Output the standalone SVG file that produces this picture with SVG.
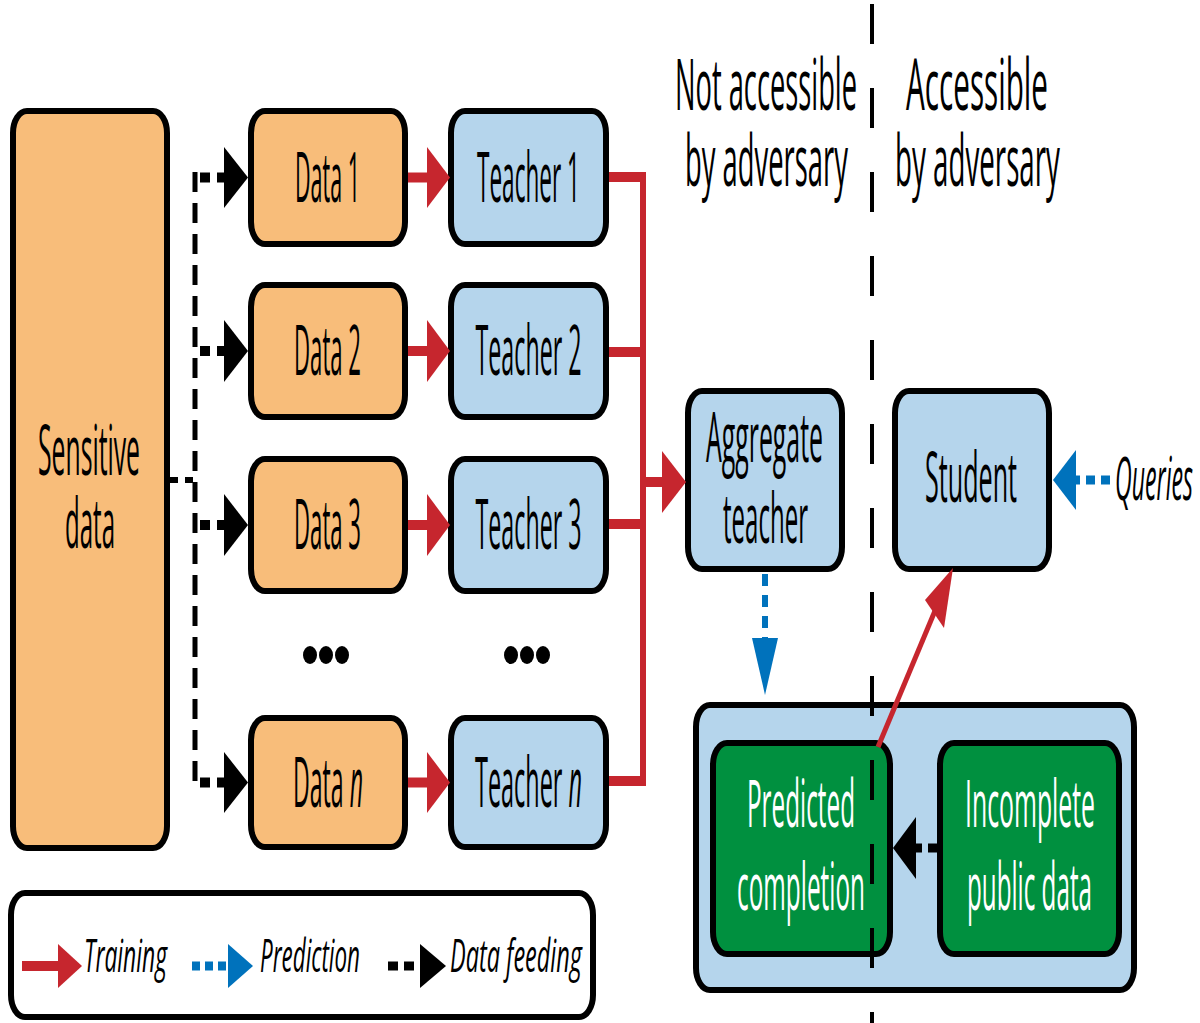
<svg xmlns="http://www.w3.org/2000/svg" width="1200" height="1023" viewBox="0 0 1200 1023">
<style>
.box{stroke:#000;stroke-width:6}
.or{fill:#F8BD7A}
.bl{fill:#B5D5EC}
.gr{fill:#00903F}
.t{font-family:"Open Sans","Noto Sans","DejaVu Sans",sans-serif;font-size:70px;fill:#000}
.w{fill:#fff;font-size:66px}
.hd{font-size:72px}
.it{font-style:italic}
.lg{font-size:46px;font-style:italic}
.red{stroke:#C6262E;fill:none}
.redf{fill:#C6262E}
.blu{stroke:#0072BC;fill:none}
.bluf{fill:#0072BC}
.blk{stroke:#000;fill:none}
</style>
<rect width="1200" height="1023" fill="#fff"/>

<g id="sensitive-data">
<rect class="box or" x="13" y="111" width="154" height="737" rx="14" ry="22"/>
<text class="t" x="89" y="475" text-anchor="middle" textLength="102" lengthAdjust="spacingAndGlyphs">Sensitive</text>
<text class="t" x="90" y="548" text-anchor="middle" textLength="50" lengthAdjust="spacingAndGlyphs">data</text>
</g>

<g id="data1">
<rect class="box or" x="251" y="111" width="154" height="133" rx="14" ry="22"/>
<text class="t" x="327.5" y="202" text-anchor="middle" textLength="65" lengthAdjust="spacingAndGlyphs">Data 1</text>
</g>
<g id="data2">
<rect class="box or" x="251" y="285" width="154" height="132" rx="14" ry="22"/>
<text class="t" x="327.5" y="375" text-anchor="middle" textLength="67" lengthAdjust="spacingAndGlyphs">Data 2</text>
</g>
<g id="data3">
<rect class="box or" x="251" y="459" width="154" height="132" rx="14" ry="22"/>
<text class="t" x="327.5" y="549" text-anchor="middle" textLength="67" lengthAdjust="spacingAndGlyphs">Data 3</text>
</g>
<g id="data-dots">
<ellipse cx="310" cy="655" rx="7" ry="9"/>
<ellipse cx="326" cy="655" rx="7" ry="9"/>
<ellipse cx="342" cy="655" rx="7" ry="9"/>
</g>
<g id="datan">
<rect class="box or" x="251" y="718" width="154" height="129" rx="14" ry="22"/>
<text class="t" x="328" y="807" text-anchor="middle" textLength="70" lengthAdjust="spacingAndGlyphs">Data <tspan class="it">n</tspan></text>
</g>

<g id="teacher1">
<rect class="box bl" x="451" y="111" width="155" height="133" rx="14" ry="22"/>
<text class="t" x="528.5" y="202" text-anchor="middle" textLength="103" lengthAdjust="spacingAndGlyphs">Teacher 1</text>
</g>
<g id="teacher2">
<rect class="box bl" x="451" y="285" width="155" height="132" rx="14" ry="22"/>
<text class="t" x="528.5" y="375" text-anchor="middle" textLength="106" lengthAdjust="spacingAndGlyphs">Teacher 2</text>
</g>
<g id="teacher3">
<rect class="box bl" x="451" y="459" width="155" height="132" rx="14" ry="22"/>
<text class="t" x="528.5" y="549" text-anchor="middle" textLength="106" lengthAdjust="spacingAndGlyphs">Teacher 3</text>
</g>
<g id="teacher-dots">
<ellipse cx="511" cy="655" rx="7" ry="9"/>
<ellipse cx="527" cy="655" rx="7" ry="9"/>
<ellipse cx="543" cy="655" rx="7" ry="9"/>
</g>
<g id="teachern">
<rect class="box bl" x="451" y="718" width="155" height="129" rx="14" ry="22"/>
<text class="t" x="528.5" y="807" text-anchor="middle" textLength="107" lengthAdjust="spacingAndGlyphs">Teacher <tspan class="it">n</tspan></text>
</g>

<g id="aggregate-teacher">
<rect class="box bl" x="688" y="391" width="154" height="178" rx="14" ry="22"/>
<text class="t" x="764.5" y="462" text-anchor="middle" textLength="117" lengthAdjust="spacingAndGlyphs">Aggregate</text>
<text class="t" x="765.5" y="543" text-anchor="middle" textLength="85" lengthAdjust="spacingAndGlyphs">teacher</text>
</g>

<g id="student">
<rect class="box bl" x="895" y="391" width="154" height="178" rx="14" ry="22"/>
<text class="t" x="971" y="502" text-anchor="middle" textLength="92" lengthAdjust="spacingAndGlyphs">Student</text>
</g>
<g id="queries">
<text class="t it" x="1115" y="500" style="font-size:60px" textLength="78" lengthAdjust="spacingAndGlyphs">Queries</text>
</g>

<g id="public-data-container">
<rect class="box bl" x="696" y="705" width="438" height="285" rx="14" ry="22"/>
</g>
<g id="predicted-completion">
<rect class="box gr" x="713" y="743" width="177" height="211" rx="14" ry="22"/>
<text class="t w" x="801" y="827" text-anchor="middle" textLength="108" lengthAdjust="spacingAndGlyphs">Predicted</text>
<text class="t w" x="801" y="910" text-anchor="middle" textLength="128" lengthAdjust="spacingAndGlyphs">completion</text>
</g>
<g id="incomplete-public-data">
<rect class="box gr" x="940" y="743" width="179" height="211" rx="14" ry="22"/>
<text class="t w" x="1030" y="827" text-anchor="middle" textLength="130" lengthAdjust="spacingAndGlyphs">Incomplete</text>
<text class="t w" x="1029.5" y="910" text-anchor="middle" textLength="125" lengthAdjust="spacingAndGlyphs">public data</text>
</g>

<g id="labels">
<text class="t hd" x="766" y="110" text-anchor="middle" textLength="182" lengthAdjust="spacingAndGlyphs">Not accessible</text>
<text class="t hd" x="766.5" y="186" text-anchor="middle" textLength="163" lengthAdjust="spacingAndGlyphs">by adversary</text>
<text class="t hd" x="977" y="110" text-anchor="middle" textLength="142" lengthAdjust="spacingAndGlyphs">Accessible</text>
<text class="t hd" x="977.5" y="186" text-anchor="middle" textLength="165" lengthAdjust="spacingAndGlyphs">by adversary</text>
</g>

<g id="divider">
<line class="blk" x1="872" y1="4" x2="872" y2="1023" stroke-width="4" stroke-dasharray="40 44"/>
</g>

<g id="connectors">
<line class="blk" x1="170" y1="480" x2="195" y2="480" stroke-width="6" stroke-dasharray="8 7"/>
<line class="blk" x1="195" y1="172" x2="195" y2="788" stroke-width="5" stroke-dasharray="20 11"/>
<g class="blk" stroke-width="10" stroke-dasharray="10 7">
<line x1="200" y1="177.5" x2="228" y2="177.5"/>
<line x1="200" y1="351" x2="228" y2="351"/>
<line x1="200" y1="525" x2="228" y2="525"/>
<line x1="200" y1="782.5" x2="228" y2="782.5"/>
</g>
<polygon points="224,147 248,177.5 224,208"/>
<polygon points="224,320 248,351 224,382"/>
<polygon points="224,494 248,525 224,556"/>
<polygon points="224,752 248,782.5 224,813"/>
<g class="red" stroke-width="10">
<line x1="408" y1="177.5" x2="430" y2="177.5"/>
<line x1="408" y1="351" x2="430" y2="351"/>
<line x1="408" y1="525" x2="430" y2="525"/>
<line x1="408" y1="782.5" x2="430" y2="782.5"/>
</g>
<polygon class="redf" points="427,147 450,177.5 427,208"/>
<polygon class="redf" points="427,320 450,351 427,382"/>
<polygon class="redf" points="427,494 450,525 427,556"/>
<polygon class="redf" points="427,752 450,782.5 427,813"/>
<g class="red" stroke-width="10">
<line x1="609" y1="177" x2="646" y2="177"/>
<line x1="609" y1="352" x2="646" y2="352"/>
<line x1="609" y1="524" x2="646" y2="524"/>
<line x1="609" y1="781" x2="646" y2="781"/>
<line x1="643" y1="482" x2="666" y2="482"/>
</g>
<line class="red" x1="643" y1="172" x2="643" y2="786" stroke-width="6"/>
<polygon class="redf" points="662,451 686,482 662,513"/>
<line class="blu" x1="765" y1="574" x2="765" y2="642" stroke-width="6" stroke-dasharray="12 9"/>
<polygon class="bluf" points="752,638 765,695 778,638"/>
<line class="blu" x1="1110" y1="480" x2="1074" y2="480" stroke-width="9" stroke-dasharray="9 6"/>
<polygon class="bluf" points="1076,450 1053,480 1076,510"/>
<line class="blk" x1="938" y1="848" x2="913" y2="848" stroke-width="9" stroke-dasharray="10 6"/>
<polygon points="916,817 893,848 916,879"/>
<line class="red" x1="878" y1="747" x2="937" y2="606" stroke-width="5"/>
<polygon class="redf" points="953,568 944,628 925,600"/>
</g>

<g id="legend">
<rect class="box" fill="#fff" x="11" y="893" width="582" height="124" rx="14" ry="22"/>
<line class="red" x1="22" y1="966" x2="62" y2="966" stroke-width="10"/>
<polygon class="redf" points="58,944 82,966 58,988"/>
<text class="t lg" x="84" y="972" textLength="83" lengthAdjust="spacingAndGlyphs">Training</text>
<line class="blu" x1="192" y1="966" x2="230" y2="966" stroke-width="9" stroke-dasharray="8 5"/>
<polygon class="bluf" points="228,944 253,966 228,988"/>
<text class="t lg" x="260" y="972" textLength="100" lengthAdjust="spacingAndGlyphs">Prediction</text>
<line class="blk" x1="388" y1="966" x2="422" y2="966" stroke-width="9" stroke-dasharray="10 6"/>
<polygon points="420,944 446,966 420,988"/>
<text class="t lg" x="450" y="972" textLength="132" lengthAdjust="spacingAndGlyphs">Data feeding</text>
</g>
</svg>
